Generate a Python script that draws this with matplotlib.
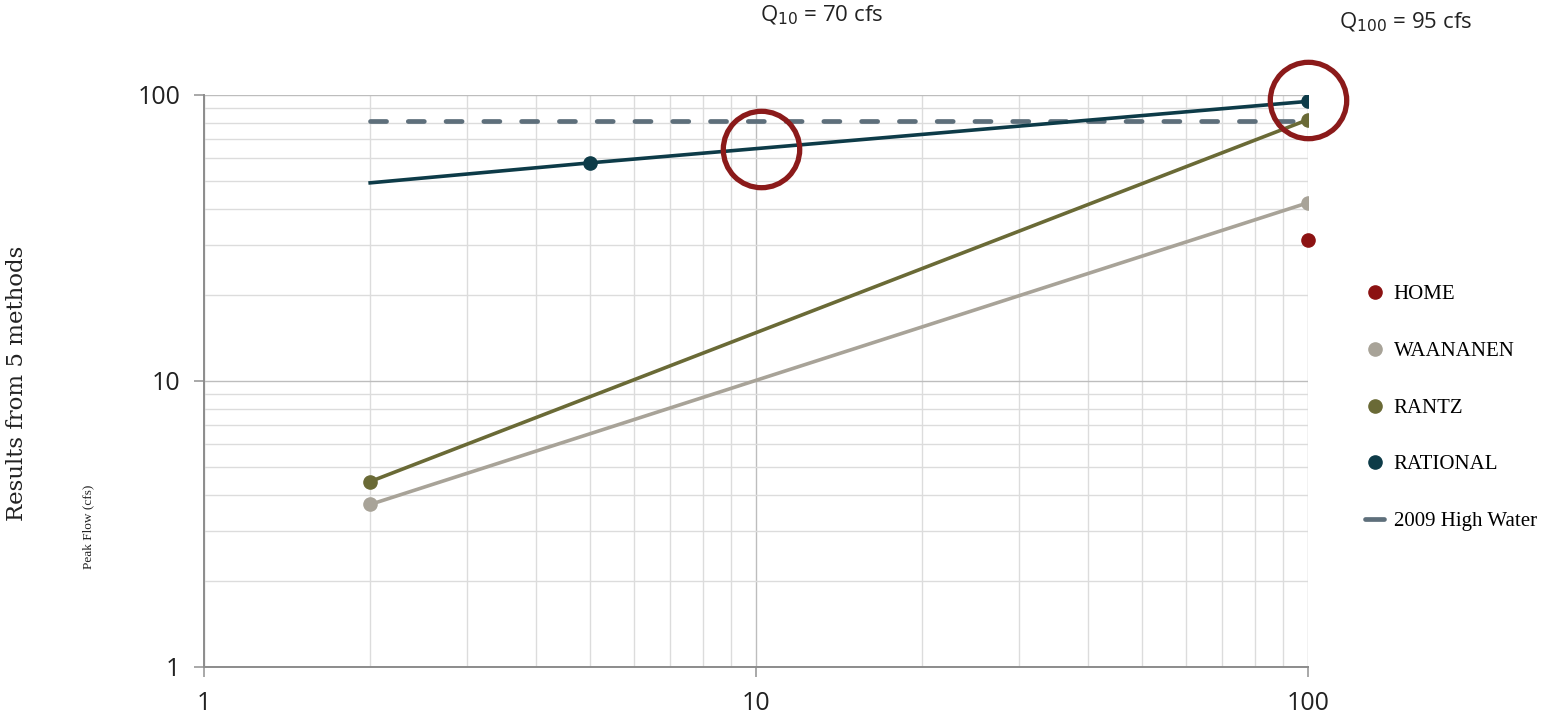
import matplotlib
matplotlib.use("Agg")
import matplotlib.pyplot as plt
from matplotlib.lines import Line2D
from matplotlib.ticker import LogLocator, FixedLocator, NullFormatter

# return period (years) vs peak flow (cfs)
rational_x = [2, 5, 100]
rational_y = [49.3, 57.9, 95]
rantz_x = [2, 100]
rantz_y = [4.45, 82]
waananen_x = [2, 100]
waananen_y = [3.7, 42]
home_x = [100]
home_y = [31]
highwater_x = [2, 100]
highwater_y = [81, 81]

# highlighted design flows
q_x = [10.2, 100]
q_y = [64.5, 96]
q_labels = [r"Q$_{10}$ = 70 cfs", r"Q$_{100}$ = 95 cfs"]

c_home = "#8c1212"
c_waan = "#a8a398"
c_rantz = "#6a6a36"
c_rat = "#0d3b48"
c_hw = "#5e6f7b"
c_circ = "#8b1a1a"

serif = ["Liberation Serif", "DejaVu Serif"]
wide_serif = ["DejaVu Serif"]
sans = ["Open Sans", "DejaVu Sans"]

W, H = 1553, 718


def fx(px):
    return px / W


def fy(px):
    # pixel row measured from the top edge
    return (H - px) / H


fig = plt.figure(figsize=(W / 100, H / 100), dpi=100)
ax = fig.add_axes([fx(204), fy(667), fx(1104), 572 / H])
ax.set_xscale("log")
ax.set_yscale("log")
ax.set_xlim(1, 100)
ax.set_ylim(1, 100)

ax.grid(True, which="major", color="#bdbdbd", lw=1.0)
ax.grid(True, which="minor", color="#dcdcdc", lw=1.0)
ax.xaxis.set_minor_locator(LogLocator(base=10, subs=range(2, 10)))
ax.yaxis.set_minor_locator(LogLocator(base=10, subs=range(2, 10)))
ax.xaxis.set_minor_formatter(NullFormatter())
ax.yaxis.set_minor_formatter(NullFormatter())
ax.xaxis.set_major_locator(FixedLocator([1, 10, 100]))
ax.yaxis.set_major_locator(FixedLocator([1, 10, 100]))
ax.set_xticklabels(["1", "10", "100"], family=sans, fontsize=18, color="#222222")
ax.set_yticklabels(["1", "10", "100"], family=sans, fontsize=18, color="#222222")
ax.tick_params(which="major", length=7, width=1.2, color="#999999", pad=10)
ax.tick_params(which="minor", length=0)
for s in ["top", "right"]:
    ax.spines[s].set_visible(False)
for s in ["left", "bottom"]:
    ax.spines[s].set_color("#8c8c8c")
    ax.spines[s].set_linewidth(1.4)

ax.plot(highwater_x, highwater_y, color=c_hw, lw=3.4, ls=(0, (3.4, 4.6)),
        dash_capstyle="round", zorder=3)
ax.plot(waananen_x, waananen_y, color=c_waan, lw=2.6, marker="o", ms=9.5, zorder=4)
ax.plot(rantz_x, rantz_y, color=c_rantz, lw=2.6, marker="o", ms=9.5, zorder=4)
ax.plot(rational_x, rational_y, color=c_rat, lw=2.6, marker="o", ms=9.5,
        markevery=[1, 2], zorder=5)
ax.plot(home_x, home_y, ls="none", color=c_home, marker="o", ms=9.5, zorder=5,
        clip_on=False)

ax.plot(q_x, q_y, ls="none", marker="o", ms=55, mfc="none", mec=c_circ,
        mew=3.8, zorder=6, clip_on=False)

for lab, x, y in zip(q_labels, [822, 1406], [15, 22]):
    fig.text(fx(x), fy(y), lab, ha="center", va="center", family=sans,
             fontsize=16, color="#222222")

fig.text(fx(17), fy(383), "Results from 5 methods", rotation=90, ha="center",
         va="center", family=wide_serif, fontsize=16.5, color="#222222")
fig.text(fx(88), fy(527), "Peak Flow (cfs)", rotation=90, ha="center",
         va="center", family=serif, fontsize=9.5, color="#222222")

handles = [
    Line2D([], [], ls="none", marker="o", ms=9.5, color=c_home),
    Line2D([], [], ls="none", marker="o", ms=9.5, color=c_waan),
    Line2D([], [], ls="none", marker="o", ms=9.5, color=c_rantz),
    Line2D([], [], ls="none", marker="o", ms=9.5, color=c_rat),
    Line2D([], [], color=c_hw, lw=3.4, solid_capstyle="round"),
]
names = ["HOME", "WAANANEN", "RANTZ", "RATIONAL", "2009 High Water"]
fig.legend(handles, names, loc="center left",
           bbox_to_anchor=(fx(1355), fy(408)), frameon=False,
           prop={"family": serif, "size": 15}, handlelength=0.9,
           handletextpad=0.45, labelspacing=1.78, borderpad=0)

fig.savefig("out.png", dpi=100)
